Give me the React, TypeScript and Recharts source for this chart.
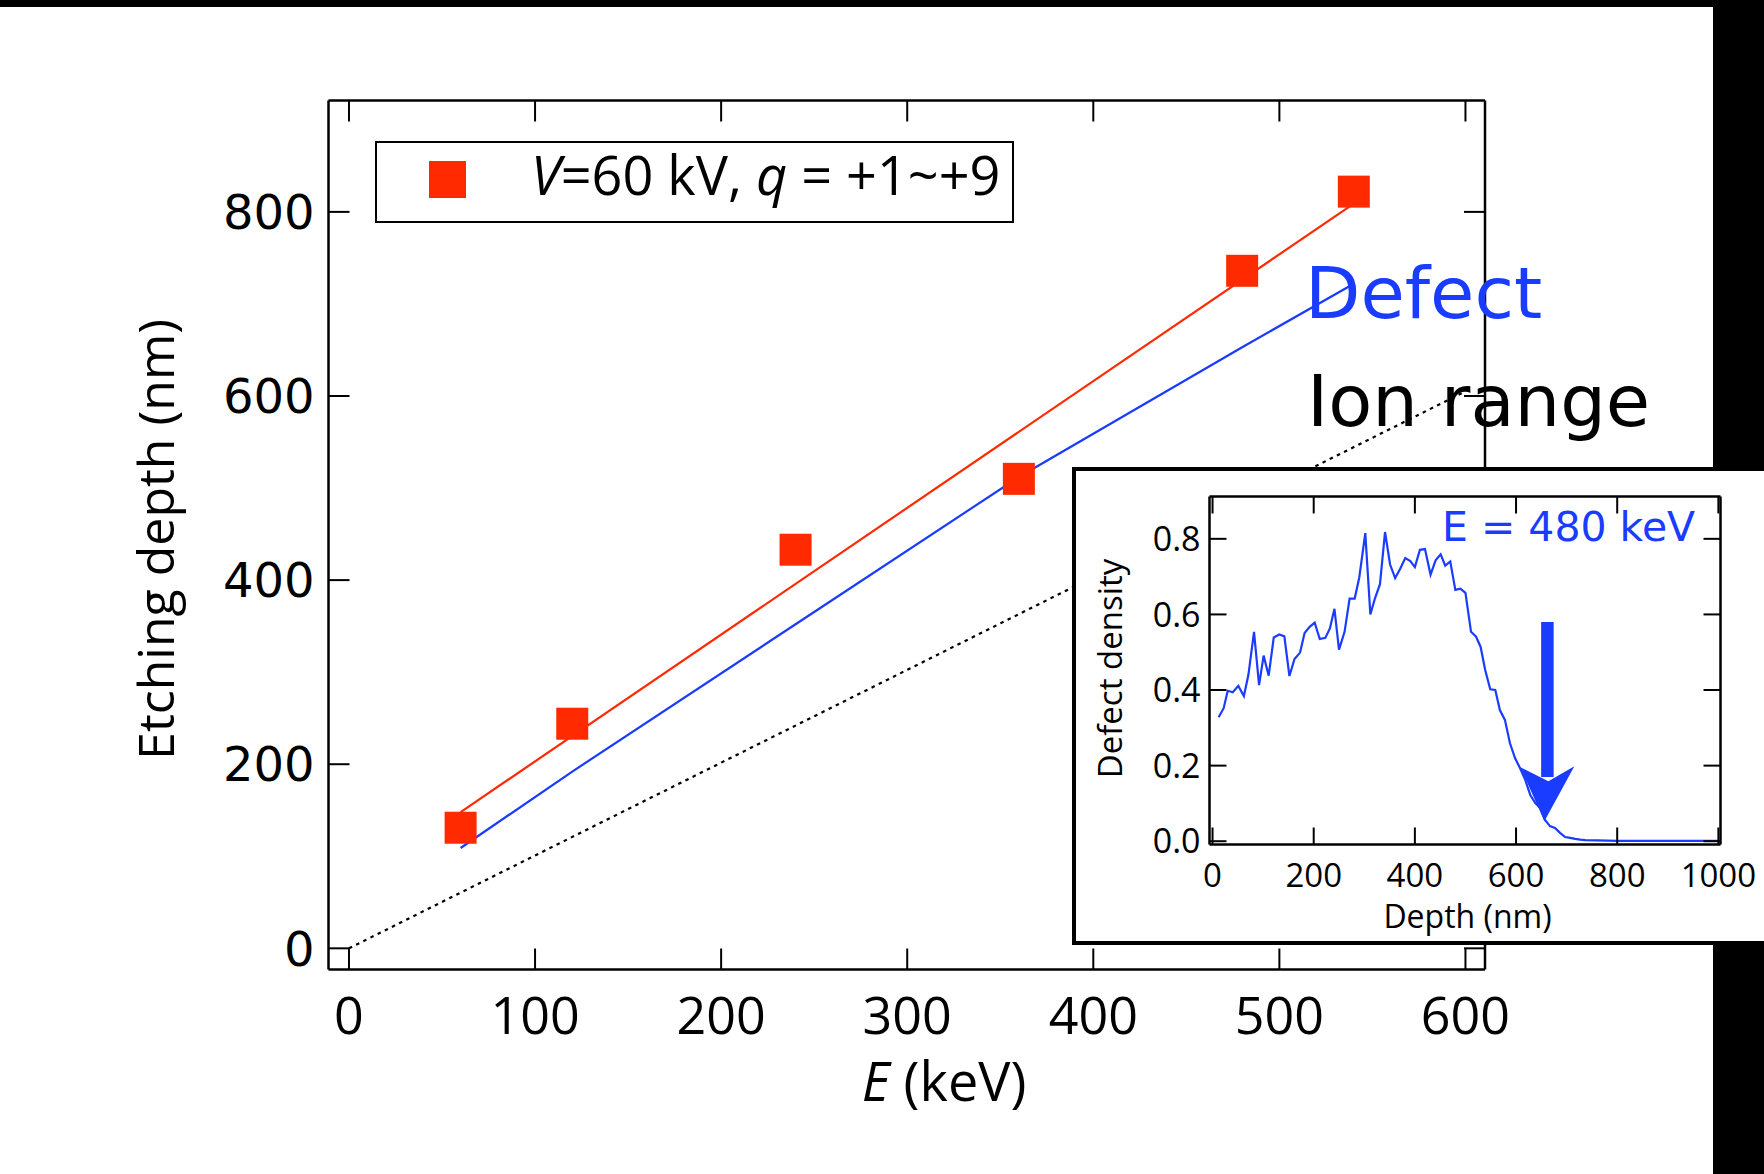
import React from 'react';
import { ComposedChart, Line, Scatter, XAxis, YAxis, Legend, Label } from 'recharts';

// Main panel: etching depth vs ion energy
const energyKeV = [60, 120, 240, 360, 480, 540];
const etchingDepthNm = [131, 244, 433, 510, 736, 822];
const fitEnergy = [60, 540];
const fitDepth = [148, 809];
const defectEnergy = [60, 120, 240, 360, 480, 540];
const defectDepth = [109, 192, 352, 512, 653, 722];
const ionRangeEnergy = [0, 600];
const ionRangeDepth = [0, 605];
const energyTicks = [0, 100, 200, 300, 400, 500, 600];
const depthTicks = [0, 200, 400, 600, 800];

// Inset: defect profile at E = 480 keV
const profileDepthNm = [
  12, 22, 30, 40, 51, 62, 71, 82, 92, 101, 111, 121, 132, 142, 152, 162, 173, 182, 192, 202,
  212, 223, 232, 241, 250, 261, 271, 281, 290, 302, 312, 321, 331, 341, 351, 361, 371, 381, 391, 400,
  410, 420, 431, 441, 451, 460, 470, 480, 490, 500, 511, 521, 530, 539, 549, 559, 568, 578, 588, 598,
  608, 618, 628, 638, 648, 657, 667, 677, 687, 697, 707, 717, 727, 737, 760, 800, 900, 1000,
];
const profileDefect = [
  0.328, 0.352, 0.398, 0.394, 0.411, 0.384, 0.441, 0.554, 0.413, 0.491, 0.438, 0.539, 0.547, 0.542, 0.437, 0.482, 0.499, 0.551, 0.567, 0.578,
  0.535, 0.538, 0.563, 0.615, 0.507, 0.554, 0.642, 0.642, 0.697, 0.815, 0.6, 0.642, 0.68, 0.818, 0.732, 0.696, 0.721, 0.749, 0.741, 0.725,
  0.771, 0.773, 0.705, 0.743, 0.759, 0.729, 0.74, 0.665, 0.668, 0.657, 0.554, 0.541, 0.514, 0.453, 0.402, 0.4, 0.347, 0.321, 0.259, 0.22,
  0.193, 0.163, 0.123, 0.101, 0.088, 0.057, 0.04, 0.035, 0.022, 0.011, 0.009, 0.006, 0.004, 0.003, 0.002, 0.001, 0.001, 0.001,
];
const profileXTicks = [0, 200, 400, 600, 800, 1000];
const profileYTicks = [0, 0.2, 0.4, 0.6, 0.8];
const arrowDepth = [662, 662];
const arrowDefect = [0.58, 0.17];
const arrowTipDepth = [656];
const arrowTipDefect = [0.053];

const RED = '#ff2a00';
const BLUE = '#1a3cff';
const SANS = '"Open Sans", "DejaVu Sans", sans-serif';
const WIDE = '"DejaVu Sans", sans-serif';

const toPoints = (xs: number[], ys: number[]) => xs.map((x, i) => ({ x, y: ys[i] }));

const measured = toPoints(energyKeV, etchingDepthNm);
const fitLine = toPoints(fitEnergy, fitDepth);
const defectLine = toPoints(defectEnergy, defectDepth);
const ionRangeLine = toPoints(ionRangeEnergy, ionRangeDepth);
const profile = toPoints(profileDepthNm, profileDefect);
const arrowShaft = toPoints(arrowDepth, arrowDefect);
const arrowTip = toPoints(arrowTipDepth, arrowTipDefect);

// main axes geometry
const MAIN_TICK = 21;
const MX_MARGIN = 64;
const MY_MARGIN = 14;

const MainBottomTick = (p: any) => {
  const axisY = p.y - MX_MARGIN;
  return (
    <g>
      <line x1={p.x} x2={p.x} y1={axisY} y2={axisY - MAIN_TICK} stroke="#000" strokeWidth={2} />
      <text x={p.x} y={p.y} textAnchor="middle" fontFamily={SANS} fontSize={52} fill="#000">
        {p.payload.value}
      </text>
    </g>
  );
};
const MainTopTick = (p: any) => (
  <line x1={p.x} x2={p.x} y1={p.y} y2={p.y + MAIN_TICK} stroke="#000" strokeWidth={2} />
);
const MainLeftTick = (p: any) => {
  const axisX = p.x + MY_MARGIN;
  return (
    <g>
      <line x1={axisX} x2={axisX + MAIN_TICK} y1={p.y} y2={p.y} stroke="#000" strokeWidth={2} />
      <text x={p.x} y={p.y} dy="0.36em" textAnchor="end" fontFamily={WIDE} fontSize={48} fill="#000">
        {p.payload.value}
      </text>
    </g>
  );
};
const MainRightTick = (p: any) => (
  <line x1={p.x} x2={p.x - MAIN_TICK} y1={p.y} y2={p.y} stroke="#000" strokeWidth={2} />
);

// inset axes geometry
const IN_TICK = 17;
const IX_MARGIN = 42;
const IY_MARGIN = 9;

const InsetBottomTick = (p: any) => {
  const axisY = p.y - IX_MARGIN;
  return (
    <g>
      <line x1={p.x} x2={p.x} y1={axisY} y2={axisY - IN_TICK} stroke="#000" strokeWidth={2} />
      <text x={p.x} y={p.y} textAnchor="middle" fontFamily={SANS} fontSize={33} fill="#000">
        {p.payload.value}
      </text>
    </g>
  );
};
const InsetTopTick = (p: any) => (
  <line x1={p.x} x2={p.x} y1={p.y} y2={p.y + IN_TICK} stroke="#000" strokeWidth={2} />
);
const InsetLeftTick = (p: any) => {
  const axisX = p.x + IY_MARGIN;
  return (
    <g>
      <line x1={axisX} x2={axisX + IN_TICK} y1={p.y} y2={p.y} stroke="#000" strokeWidth={2} />
      <text x={p.x} y={p.y} dy="0.36em" textAnchor="end" fontFamily={SANS} fontSize={34} fill="#000">
        {Number(p.payload.value).toFixed(1)}
      </text>
    </g>
  );
};
const InsetRightTick = (p: any) => (
  <line x1={p.x} x2={p.x - IN_TICK} y1={p.y} y2={p.y} stroke="#000" strokeWidth={2} />
);

const SquareMarker = (p: any) => (
  <rect x={p.cx - 16} y={p.cy - 16} width={32} height={32} fill={RED} />
);

const ArrowHead = (p: any) => (
  <polygon
    points={`${p.cx},${p.cy} ${p.cx - 24},${p.cy - 54} ${p.cx + 4},${p.cy - 40} ${p.cx + 30},${p.cy - 55}`}
    fill={BLUE}
  />
);

const LegendBox = () => (
  <svg width={639} height={82} style={{ display: 'block', overflow: 'visible' }}>
    <rect x={1} y={1} width={637} height={80} fill="#fff" stroke="#000" strokeWidth={2} />
    <rect x={54} y={20} width={37} height={37} fill={RED} />
    <text x={156} y={54} fontFamily={SANS} fontSize={54} fill="#000">
      <tspan fontStyle="italic">V</tspan>
      <tspan>=60 kV, </tspan>
      <tspan fontStyle="italic">q</tspan>
      <tspan> = +1~+9</tspan>
    </text>
  </svg>
);

const axisLine = { stroke: '#000', strokeWidth: 2.5 };

export default function App() {
  return (
    <div style={{ position: 'absolute', left: 0, top: 0, width: 1764, height: 1174, background: '#fff', overflow: 'hidden' }}>
      <div style={{ position: 'absolute', left: 0, top: 0, width: 1764, height: 7, background: '#000' }} />
      <div style={{ position: 'absolute', left: 1713, top: 0, width: 51, height: 1174, background: '#000' }} />

      <div style={{ position: 'absolute', left: 0, top: 0 }}>
        <ComposedChart width={1764} height={1174} margin={{ top: 99.5, right: 278, bottom: 104.5, left: 208.5 }}>
          <XAxis
            xAxisId="b"
            dataKey="x"
            type="number"
            domain={[-11, 610.5]}
            ticks={energyTicks}
            interval={0}
            allowDataOverflow
            height={100}
            tickSize={0}
            tickMargin={MX_MARGIN}
            axisLine={axisLine}
            tick={MainBottomTick}
          >
            <Label
              content={() => (
                <text x={944} y={1101} textAnchor="middle" fontFamily={SANS} fontSize={54} fill="#000">
                  <tspan fontStyle="italic">E</tspan>
                  <tspan> (keV)</tspan>
                </text>
              )}
            />
          </XAxis>
          <XAxis
            xAxisId="t"
            orientation="top"
            dataKey="x"
            type="number"
            domain={[-11, 610.5]}
            ticks={energyTicks}
            interval={0}
            allowDataOverflow
            height={1}
            tickSize={0}
            tickMargin={0}
            axisLine={axisLine}
            tick={MainTopTick}
          />
          <YAxis
            yAxisId="l"
            dataKey="y"
            type="number"
            domain={[-23, 921]}
            ticks={depthTicks}
            interval={0}
            allowDataOverflow
            width={120}
            tickSize={0}
            tickMargin={MY_MARGIN}
            axisLine={axisLine}
            tick={MainLeftTick}
          >
            <Label
              content={() => (
                <text transform="translate(174, 539.5) rotate(-90)" textAnchor="middle" fontFamily={SANS} fontSize={50} fill="#000">
                  Etching depth (nm)
                </text>
              )}
            />
          </YAxis>
          <YAxis
            yAxisId="r"
            orientation="right"
            dataKey="y"
            type="number"
            domain={[-23, 921]}
            ticks={depthTicks}
            interval={0}
            allowDataOverflow
            width={1}
            tickSize={0}
            tickMargin={0}
            axisLine={axisLine}
            tick={MainRightTick}
          />
          <Legend
            layout="horizontal"
            verticalAlign="middle"
            width={639}
            height={82}
            wrapperStyle={{ position: 'absolute', left: 375, top: 141, width: 639, height: 82 }}
            content={() => <LegendBox />}
          />
          <Line
            xAxisId="b"
            yAxisId="l"
            data={ionRangeLine}
            dataKey="y"
            name="Ion range"
            stroke="#000"
            strokeWidth={2.2}
            strokeDasharray="3.5 4.5"
            dot={false}
            legendType="none"
            isAnimationActive={false}
          />
          <Line
            xAxisId="b"
            yAxisId="l"
            data={defectLine}
            dataKey="y"
            name="Defect"
            stroke={BLUE}
            strokeWidth={2.2}
            dot={false}
            legendType="none"
            isAnimationActive={false}
          />
          <Line
            xAxisId="b"
            yAxisId="l"
            data={fitLine}
            dataKey="y"
            name="fit"
            stroke={RED}
            strokeWidth={2.2}
            dot={false}
            legendType="none"
            isAnimationActive={false}
          />
          <Scatter
            xAxisId="b"
            yAxisId="l"
            data={measured}
            dataKey="y"
            name="V=60 kV, q = +1~+9"
            fill={RED}
            shape={SquareMarker}
            isAnimationActive={false}
          />
        </ComposedChart>
      </div>

      {/* inset */}
      <div
        style={{
          position: 'absolute',
          left: 1072,
          top: 467,
          width: 700,
          height: 478,
          boxSizing: 'border-box',
          border: '4.5px solid #000',
          borderRight: 'none',
          background: '#fff',
        }}
      >
        <ComposedChart width={687.5} height={469} margin={{ top: 24.5, right: 42, bottom: 35.5, left: 53.5 }}>
          <XAxis
            xAxisId="b"
            dataKey="x"
            type="number"
            domain={[-6, 1004.2]}
            ticks={profileXTicks}
            interval={0}
            allowDataOverflow
            height={60}
            tickSize={0}
            tickMargin={IX_MARGIN}
            axisLine={axisLine}
            tick={InsetBottomTick}
          >
            <Label
              content={() => (
                <text x={391.5} y={457} textAnchor="middle" fontFamily={SANS} fontSize={32} fill="#000">
                  Depth (nm)
                </text>
              )}
            />
          </XAxis>
          <XAxis
            xAxisId="t"
            orientation="top"
            dataKey="x"
            type="number"
            domain={[-6, 1004.2]}
            ticks={profileXTicks}
            interval={0}
            allowDataOverflow
            height={1}
            tickSize={0}
            tickMargin={0}
            axisLine={axisLine}
            tick={InsetTopTick}
          />
          <YAxis
            yAxisId="l"
            dataKey="y"
            type="number"
            domain={[-0.0087, 0.912]}
            ticks={profileYTicks}
            interval={0}
            allowDataOverflow
            width={80}
            tickSize={0}
            tickMargin={IY_MARGIN}
            axisLine={axisLine}
            tick={InsetLeftTick}
          >
            <Label
              content={() => (
                <text transform="translate(45.5, 197.5) rotate(-90)" textAnchor="middle" fontFamily={SANS} fontSize={33} fill="#000">
                  Defect density
                </text>
              )}
            />
          </YAxis>
          <YAxis
            yAxisId="r"
            orientation="right"
            dataKey="y"
            type="number"
            domain={[-0.0087, 0.912]}
            ticks={profileYTicks}
            interval={0}
            allowDataOverflow
            width={1}
            tickSize={0}
            tickMargin={0}
            axisLine={axisLine}
            tick={InsetRightTick}
          />
          <Line
            xAxisId="b"
            yAxisId="l"
            data={profile}
            dataKey="y"
            stroke={BLUE}
            strokeWidth={2.2}
            dot={false}
            isAnimationActive={false}
          />
          <Line
            xAxisId="b"
            yAxisId="l"
            data={arrowShaft}
            dataKey="y"
            stroke={BLUE}
            strokeWidth={12.5}
            strokeLinecap="butt"
            dot={false}
            isAnimationActive={false}
          />
          <Scatter
            xAxisId="b"
            yAxisId="l"
            data={arrowTip}
            dataKey="y"
            fill={BLUE}
            shape={ArrowHead}
            isAnimationActive={false}
          />
        </ComposedChart>
      </div>

      {/* annotations */}
      <svg width={1764} height={1174} style={{ position: 'absolute', left: 0, top: 0, pointerEvents: 'none' }}>
        <text x={1305} y={318} fontFamily={WIDE} fontSize={72} fill={BLUE}>Defect</text>
        <text x={1307} y={426} fontFamily={WIDE} fontSize={72} fill="#000">Ion range</text>
        <text x={1442} y={541} fontFamily={WIDE} fontSize={41} fill={BLUE}>E = 480 keV</text>
      </svg>
    </div>
  );
}
